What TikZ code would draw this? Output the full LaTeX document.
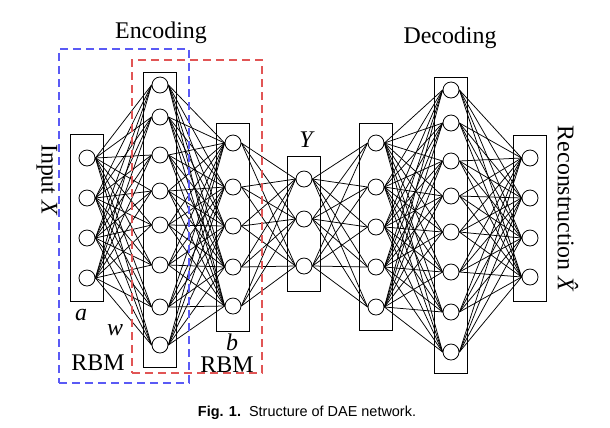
\documentclass[tikz,border=0pt]{standalone}
\usepackage{fontspec}
\setmainfont{Liberation Serif}
\newfontfamily\captionfont{Liberation Sans}
\usetikzlibrary{calc}

\definecolor{encframe}{RGB}{90,90,245}
\definecolor{decframe}{RGB}{225,85,85}

\begin{document}
\begin{tikzpicture}[
    x=1bp, y=-1bp,
    font=\fontsize{24}{28}\selectfont,
    neuron/.style={circle, draw, fill=white, inner sep=0pt, minimum size=16bp, line width=0.8bp},
    layerbox/.style={draw, line width=0.9bp, inner sep=0pt, minimum width=33bp},
    link/.style={line width=0.75bp},
    rbmbox/.style={line width=1.1bp, dash pattern=on 8bp off 5bp, inner sep=0pt, minimum width=130bp}
]
\useasboundingbox (0,0) rectangle (610,427);

% ================= LAYER BOXES =================
\node[layerbox, minimum height=167bp] (boxIn)  at (86.5,217.5) {};
\node[layerbox, minimum height=295bp] (boxH1)  at (160,219.5) {};
\node[layerbox, minimum height=208bp] (boxH2)  at (232.5,227) {};
\node[layerbox, minimum height=135bp] (boxY)   at (304,223.5) {};
\node[layerbox, minimum height=207bp] (boxD1)  at (375.5,226.5) {};
\node[layerbox, minimum height=296bp] (boxD2)  at (450.5,225) {};
\node[layerbox, minimum height=166bp] (boxOut) at (530,218) {};

% ================= NEURONS =================
\foreach \y [count=\i] in {158,198,238,278}
    \node[neuron] (in\i) at (87,\y) {};
\foreach \y [count=\i] in {85,117,155,191,225,265,307,345}
    \node[neuron] (h1-\i) at (160,\y) {};
\foreach \y [count=\i] in {143,187,226,267,306}
    \node[neuron] (h2-\i) at (233,\y) {};
\foreach \y [count=\i] in {179,219,266}
    \node[neuron] (y\i) at (304,\y) {};
\foreach \y [count=\i] in {143,187,227,267,307}
    \node[neuron] (d1-\i) at (376,\y) {};
\foreach \y [count=\i] in {90,123,161,196,232,272,312,352}
    \node[neuron] (d2-\i) at (451,\y) {};
\foreach \y [count=\i] in {158,198,238,277}
    \node[neuron] (out\i) at (530,\y) {};

% ================= FULL CONNECTIONS =================
\foreach \i in {1,...,4}
    \foreach \j in {1,...,8}
        \draw[link] (in\i.east) -- (h1-\j.west);
\foreach \i in {1,...,8}
    \foreach \j in {1,...,5}
        \draw[link] (h1-\i.east) -- (h2-\j.west);
\foreach \i in {1,...,5}
    \foreach \j in {1,...,3}
        \draw[link] (h2-\i.east) -- (y\j.west);
\foreach \i in {1,...,3}
    \foreach \j in {1,...,5}
        \draw[link] (y\i.east) -- (d1-\j.west);
\foreach \i in {1,...,5}
    \foreach \j in {1,...,8}
        \draw[link] (d1-\i.east) -- (d2-\j.west);
\foreach \i in {1,...,8}
    \foreach \j in {1,...,4}
        \draw[link] (d2-\i.east) -- (out\j.west);

% ================= RBM FRAMES =================
\node[rbmbox, draw=encframe, minimum height=334bp] (rbmA) at (124,216) {};
\node[rbmbox, draw=decframe, minimum height=313bp] (rbmB) at (197,216.5) {};

% ================= LABELS =================
\node (encLabel) at (161,33) {Encoding};
\node (decLabel) at (450,38) {Decoding};
\node[rotate=-90] (inLabel) at (47,180) {Input \textit{X}};
\node[rotate=-90] (outLabel) at (568,213) {Reconstruction \textit{\^{X}}};
\node (yLabel) at (307,140) {\textit{Y}};
\node (aLabel) at (81,315) {\textit{a}};
\node (wLabel) at (115,330) {\textit{w}};
\node (bLabel) at (232,342) {\textit{b}};
\node (rbmLabelA) at (98,363) {RBM};
\node (rbmLabelB) at (227,365) {RBM};

% caption
\node[font=\captionfont\fontsize{14.5}{17}\selectfont] (caption) at (307,413) {\textbf{Fig. 1.}\ \ Structure of DAE network.};

\end{tikzpicture}
\end{document}
